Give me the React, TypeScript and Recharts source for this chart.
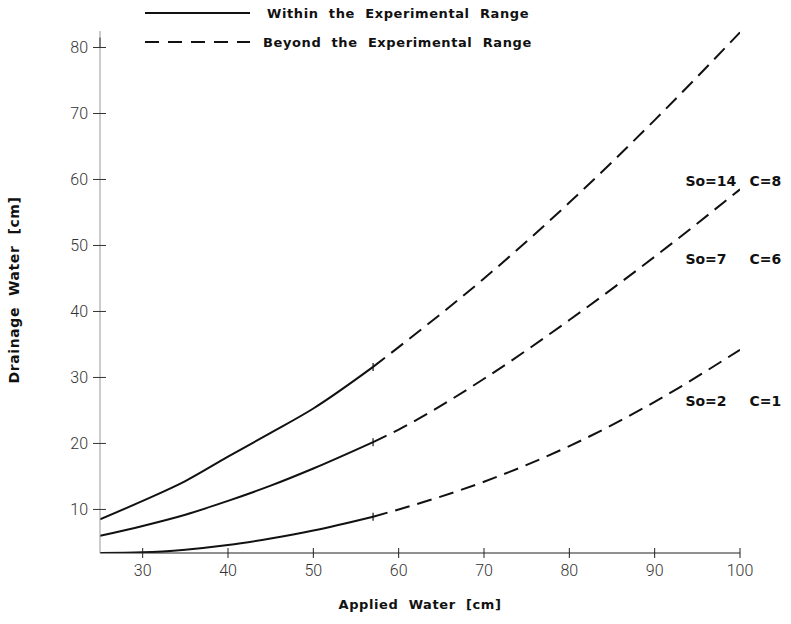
import React from "react";
import { LineChart, Line, XAxis, YAxis, ReferenceDot } from "recharts";

const appliedWater = [25, 30, 35, 40, 45, 50, 57, 60, 70, 80, 90, 100];
// Drainage water [cm] for each parameter set
const so14c8 = [8.5, 11.3, 14.3, 18.0, 21.6, 25.3, 31.6, 34.6, 45.0, 56.5, 69.0, 82.3];
const so7c6 = [6.0, 7.5, 9.2, 11.3, 13.6, 16.2, 20.2, 22.1, 29.8, 38.7, 48.3, 58.5];
const so2c1 = [3.4, 3.5, 3.9, 4.6, 5.6, 6.8, 8.9, 10.0, 14.2, 19.6, 26.3, 34.2];
const experimentalLimit = 57;

const xTicks = [30, 40, 50, 60, 70, 80, 90, 100];
const yTicks = [10, 20, 30, 40, 50, 60, 70, 80];

const curveLabels = [
  { so: "So=14", c: "C=8", x: 93.6, y: 59.7 },
  { so: "So=7", c: "C=6", x: 93.6, y: 47.9 },
  { so: "So=2", c: "C=1", x: 93.6, y: 26.5 },
];

const legendItems = ["Within the Experimental Range", "Beyond the Experimental Range"];

const series = [
  { key: "s14", values: so14c8 },
  { key: "s7", values: so7c6 },
  { key: "s2", values: so2c1 },
];

const chartData = appliedWater.map((x, i) => {
  const row: Record<string, number | null> = { x };
  series.forEach((s) => {
    row[s.key + "Solid"] = x <= experimentalLimit ? s.values[i] : null;
    row[s.key + "Dash"] = x >= experimentalLimit ? s.values[i] : null;
  });
  return row;
});

const boldFont = "'DejaVu Sans', sans-serif";
const tickFont = "Roboto, 'DejaVu Sans', sans-serif";

const XTick = (props: any) => {
  const { x, y, payload } = props;
  return (
    <g>
      <line x1={x} x2={x} y1={y - 5} y2={y + 5} stroke="#222" strokeWidth={1} />
      <text
        x={x}
        y={y + 23}
        textAnchor="middle"
        fontFamily={tickFont}
        fontWeight={300}
        fontSize={16}
        fill="#333"
      >
        {payload.value}
      </text>
    </g>
  );
};

const YTick = (props: any) => {
  const { x, y, payload } = props;
  return (
    <g>
      <line x1={x - 7} x2={x + 6} y1={y} y2={y} stroke="#333" strokeWidth={1} />
      {payload.value === 80 && (
        <line x1={x} x2={x} y1={y - 10} y2={y} stroke="#333" strokeWidth={1} />
      )}
      <text
        x={x - 12}
        y={y + 6}
        textAnchor="end"
        fontFamily={tickFont}
        fontWeight={300}
        fontSize={16}
        fill="#333"
      >
        {payload.value}
      </text>
    </g>
  );
};

const limitMark = (props: any) => {
  const { cx, cy, payload, index } = props;
  if (payload.x !== experimentalLimit) return <g key={index} />;
  return (
    <line key={index} x1={cx} x2={cx} y1={cy - 4} y2={cy + 4} stroke="#111" strokeWidth={1.2} />
  );
};

const textStyle: React.CSSProperties = { whiteSpace: "pre" };

const App: React.FC = () => {
  return (
    <div style={{ position: "absolute", left: 0, top: 0, width: 791, height: 624, background: "#fff" }}>
      <LineChart
        width={791}
        height={624}
        data={chartData}
        margin={{ top: 31, right: 51, left: 40, bottom: 41 }}
      >
        <XAxis
          dataKey="x"
          type="number"
          domain={[25, 100]}
          ticks={xTicks}
          allowDataOverflow
          height={30}
          tickSize={0}
          tickMargin={0}
          tickLine={false}
          stroke="#222"
          tick={<XTick />}
        />
        <YAxis
          type="number"
          domain={[3.4, 82.5]}
          ticks={yTicks}
          allowDataOverflow
          width={60}
          tickSize={0}
          tickMargin={0}
          tickLine={false}
          stroke="#999"
          tick={<YTick />}
        />
        {series.map((s) => (
          <Line
            key={s.key + "Solid"}
            dataKey={s.key + "Solid"}
            type="monotone"
            stroke="#111"
            strokeWidth={2}
            dot={limitMark}
            activeDot={false}
            isAnimationActive={false}
          />
        ))}
        {series.map((s) => (
          <Line
            key={s.key + "Dash"}
            dataKey={s.key + "Dash"}
            type="monotone"
            stroke="#111"
            strokeWidth={2}
            strokeDasharray="15 8"
            dot={false}
            activeDot={false}
            isAnimationActive={false}
          />
        ))}
        {curveLabels.map((l) => (
          <ReferenceDot
            key={l.so}
            x={l.x}
            y={l.y}
            r={0}
            ifOverflow="visible"
            label={(p: any) => {
              const vb = p.viewBox || {};
              const cx = vb.x + (vb.width || 0) / 2;
              const cy = vb.y + (vb.height || 0) / 2;
              return (
                <text fontFamily={boldFont} fontWeight="bold" fontSize={14} fill="#111" y={cy + 5}>
                  <tspan x={cx}>{l.so}</tspan>
                  <tspan x={cx + 64}>{l.c}</tspan>
                </text>
              );
            }}
          />
        ))}
      </LineChart>
      <svg width={600} height={56} style={{ position: "absolute", left: 0, top: 0 }}>
        <line x1={145} x2={250} y1={13} y2={13} stroke="#111" strokeWidth={2} />
        <text x={267} y={18} fontFamily={boldFont} fontWeight="bold" fontSize={13} letterSpacing={0.6} fill="#111" style={textStyle}>
          {legendItems[0].split(" ").join("  ")}
        </text>
        <line x1={145} x2={250} y1={42} y2={42} stroke="#111" strokeWidth={2} strokeDasharray="14 9" />
        <text x={263} y={47} fontFamily={boldFont} fontWeight="bold" fontSize={13} letterSpacing={0.6} fill="#111" style={textStyle}>
          {legendItems[1].split(" ").join("  ")}
        </text>
      </svg>
      <div
        style={{
          position: "absolute",
          left: 14,
          top: 290,
          transform: "translate(-50%, -50%) rotate(-90deg)",
          whiteSpace: "pre",
          fontFamily: boldFont,
          fontWeight: "bold",
          fontSize: 14,
          letterSpacing: 0.6,
          color: "#111",
        }}
      >
        Drainage  Water  [cm]
      </div>
      <div
        style={{
          position: "absolute",
          left: 420,
          top: 604,
          transform: "translate(-50%, -50%)",
          whiteSpace: "pre",
          fontFamily: boldFont,
          fontWeight: "bold",
          fontSize: 13,
          letterSpacing: 0.6,
          color: "#111",
        }}
      >
        Applied  Water  [cm]
      </div>
    </div>
  );
};

export default App;
